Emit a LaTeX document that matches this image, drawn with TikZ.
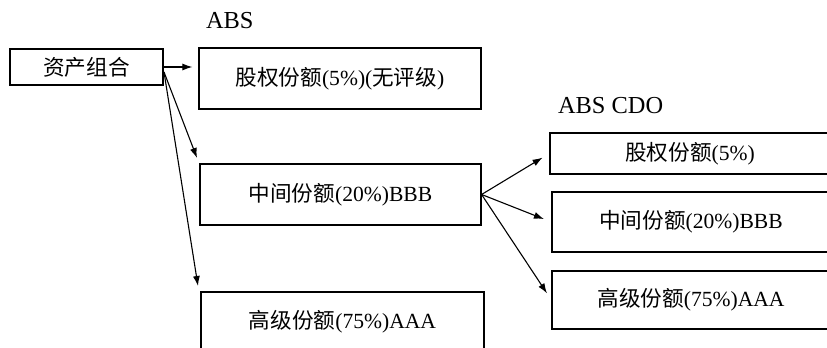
\documentclass[tikz,border=0pt]{standalone}
\usepackage{fontspec}
\setmainfont{Liberation Serif}
\newfontfamily\cjk{Noto Sans CJK SC}
\newcommand{\zh}[1]{{\cjk #1}}
\usetikzlibrary{arrows.meta}
\begin{document}
\begin{tikzpicture}[x=0.5pt, y=-0.5pt, font=\fontsize{10.8}{12}\selectfont,
  tranche/.style 2 args={draw, line width=0.6pt, inner sep=0pt, minimum width=#1, minimum height=#2},
  title/.style={anchor=base west, font=\fontsize{12.2}{14}\selectfont},
  feed/.style={-{Latex[length=5pt,width=3.5pt]}, line width=0.55pt}]
\useasboundingbox (0,0) rectangle (827,348);
% titles
\node[title] (absTitle) at (199,28) {ABS};
\node[title] (cdoTitle) at (551,113) {ABS CDO};
% pool and ABS tranches
\node[tranche={76.5pt}{18pt}] (pool) at (86.5,67) {\zh{资产组合}};
\node[tranche={141pt}{30.5pt}] (absEq) at (340,78.5) {\zh{股权份额}(5\%)(\zh{无评级})};
\node[tranche={140.5pt}{30.5pt}] (absMez) at (340.5,194.5) {\zh{中间份额}(20\%)BBB};
\node[tranche={141.5pt}{30pt}] (absSen) at (342.5,322) {\zh{高级份额}(75\%)AAA};
% ABS CDO tranches
\node[tranche={140pt}{20.5pt}] (cdoEq) at (690,153.5) {\zh{股权份额}(5\%)};
\node[tranche={139pt}{30pt}] (cdoMez) at (691,222) {\zh{中间份额}(20\%)BBB};
\node[tranche={139pt}{29pt}] (cdoSen) at (691,300) {\zh{高级份额}(75\%)AAA};
% arrows
\coordinate (fork) at (164,72);
\coordinate (mezTip) at (197,158);
\coordinate (senTip) at (198,286);
\draw[feed, shorten >=3pt] (pool.east) -- (pool.east -| absEq.west);
\draw[feed] (fork) -- (mezTip);
\draw[feed] (fork) -- (senTip);
\foreach \t in {cdoEq, cdoMez, cdoSen}
  \draw[feed, shorten >=4pt] (absMez.east) -- (\t.west);
\end{tikzpicture}
\end{document}
